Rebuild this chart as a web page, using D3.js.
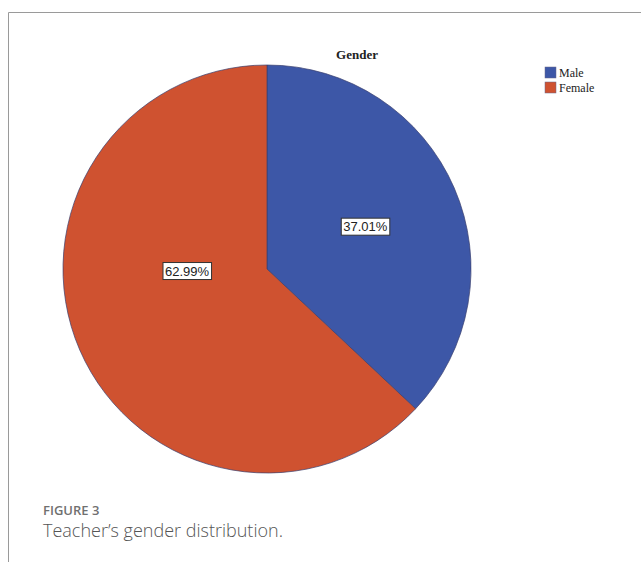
<!DOCTYPE html>
<html>
<head>
<meta charset="utf-8">
<script src="https://cdn.jsdelivr.net/npm/d3@7/dist/d3.min.js"></script>
<style>
  html, body { margin: 0; padding: 0; background: #fff; }
  svg { display: block; }
</style>
</head>
<body>
<svg id="chart" width="641" height="562"></svg>
<script>
// Gender split of teachers (percent)
const categories = ["Male", "Female"];
const values = [37.01, 62.99];
const colors = ["#3D57A7", "#CF5230"];
const title = "Gender";
const figureLabel = "FIGURE 3";
const captionText = "Teacher\u2019s gender distribution.";

const svg = d3.select("#chart");
const W = 641, H = 562;

// Frame lines (top and left)
svg.append("line").attr("x1", 8.5).attr("x2", W).attr("y1", 12.5).attr("y2", 12.5)
  .attr("stroke", "#9a9a9a").attr("stroke-width", 1);
svg.append("line").attr("x1", 8.5).attr("x2", 8.5).attr("y1", 12.5).attr("y2", H)
  .attr("stroke", "#9a9a9a").attr("stroke-width", 1);

// Chart title
svg.append("text").attr("x", 357).attr("y", 59)
  .attr("text-anchor", "middle")
  .attr("font-family", "Liberation Serif, Times New Roman, serif")
  .attr("font-weight", "bold").attr("font-size", 13)
  .attr("fill", "#222").text(title);

// Pie
const cx = 267, cy = 269, r = 204;
const pie = d3.pie().sort(null).value(d => d.value);
const data = categories.map((c, i) => ({ name: c, value: values[i], color: colors[i] }));
const arcs = pie(data);
const arc = d3.arc().innerRadius(0).outerRadius(r);
const g = svg.append("g").attr("transform", `translate(${cx},${cy})`);

g.selectAll("path.slice").data(arcs).join("path")
  .attr("class", "slice")
  .attr("d", arc)
  .attr("fill", d => d.data.color)
  .attr("stroke", "#3a3f6e").attr("stroke-width", 0.7);

// Value label placement per slice: angle shift (radians) and radius fraction
const labelPlacement = [
  { shift: 0, radius: 0.525 },
  { shift: 0.385, radius: 0.392 }
];
const fmt = d3.format(".2f");
arcs.forEach((d, i) => {
  const p = labelPlacement[i];
  const a = (d.startAngle + d.endAngle) / 2 + p.shift;
  const lx = Math.sin(a) * r * p.radius;
  const ly = -Math.cos(a) * r * p.radius;
  const lg = g.append("g").attr("transform", `translate(${lx},${ly})`);
  const t = lg.append("text")
    .attr("text-anchor", "middle").attr("dy", "0.36em")
    .attr("font-family", "Liberation Sans, Arial, sans-serif")
    .attr("font-size", 13).attr("fill", "#222")
    .text(fmt(d.data.value) + "%");
  const bb = t.node().getBBox();
  lg.insert("rect", "text")
    .attr("x", bb.x - 2).attr("y", bb.y - 1)
    .attr("width", bb.width + 4).attr("height", bb.height + 2)
    .attr("fill", "#fff").attr("stroke", "#333").attr("stroke-width", 1);
});

// Legend
const legend = svg.append("g").attr("transform", "translate(545,67)");
data.forEach((d, i) => {
  const row = legend.append("g").attr("transform", `translate(0,${i * 15})`);
  row.append("rect").attr("width", 11).attr("height", 11)
    .attr("fill", d.color).attr("stroke", "#6a6a8a").attr("stroke-width", 0.5);
  row.append("text").attr("x", 14).attr("y", 10)
    .attr("font-family", "Liberation Serif, Times New Roman, serif")
    .attr("font-size", 12).attr("fill", "#222").text(d.name);
});

// Caption
svg.append("text").attr("x", 43).attr("y", 515)
  .attr("font-family", "Open Sans, Lato, sans-serif")
  .attr("font-size", 13).attr("font-weight", 600).attr("fill", "#707070").text(figureLabel);
svg.append("text").attr("x", 43).attr("y", 537)
  .attr("font-family", "Open Sans, Lato, sans-serif")
  .attr("font-size", 18).attr("font-weight", 300).attr("fill", "#555").text(captionText);
</script>
</body>
</html>
